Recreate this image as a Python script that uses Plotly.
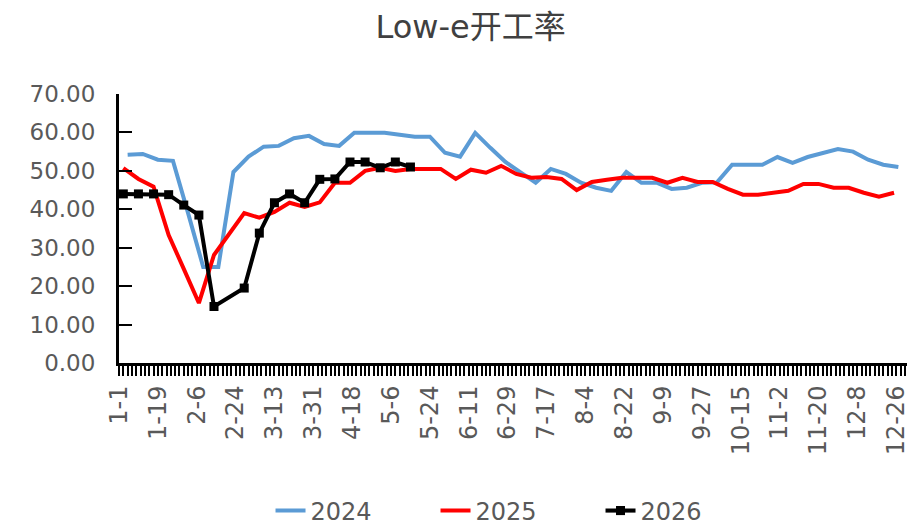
import pandas as pd
import plotly.graph_objects as go

# weekly observation dates, plotted on a common (leap-year) month-day axis
dates_2024 = pd.date_range("2024-01-05", periods=52, freq="7D")
dates_2025 = pd.date_range("2024-01-03", periods=52, freq="7D")
dates_2026 = pd.date_range("2024-01-03", periods=20, freq="7D")

rate_2024 = [54.2, 54.4, 52.9, 52.6, 39.0, 25.0, 25.0, 49.7, 53.7, 56.3,
             56.5, 58.5, 59.1, 57.0, 56.5, 59.9, 59.9, 59.9, 59.4, 58.9,
             58.9, 54.7, 53.7, 59.9, 56.0, 52.3, 49.6, 46.9, 50.5, 49.2,
             46.9, 45.6, 44.8, 49.7, 46.9, 46.9, 45.3, 45.6, 46.9, 47.0,
             51.6, 51.6, 51.6, 53.6, 52.1, 53.6, 54.7, 55.7, 55.0, 52.9,
             51.6, 51.0]

rate_2025 = [50.7, 47.9, 45.9, 33.3, 24.5, 15.6, 28.1, 33.5, 39.0, 37.8,
             39.3, 41.7, 40.6, 41.8, 46.9, 46.9, 50.0, 50.8, 50.0, 50.5,
             50.5, 50.5, 47.9, 50.3, 49.5, 51.3, 49.2, 48.2, 48.4, 47.9,
             45.0, 47.1, 47.7, 48.2, 48.2, 48.2, 46.9, 48.2, 47.1, 47.1,
             45.3, 43.8, 43.8, 44.3, 44.8, 46.6, 46.6, 45.6, 45.6, 44.3,
             43.3, 44.3]

rate_2026 = [44.0, 44.0, 44.0, 43.8, 41.1, 38.5, 14.7, None, 19.5, 33.8,
             41.7, 44.0, 41.7, 47.8, 47.9, 52.3, 52.3, 50.8, 52.3, 51.0]

y_ticks = [0, 10, 20, 30, 40, 50, 60, 70]

TITLE = "Low-e开工率"
FONT = "DejaVu Sans, Noto Sans CJK SC, sans-serif"
GRAY = "#595959"
DAY_MS = 86400000

fig = go.Figure()
fig.add_trace(go.Scatter(x=dates_2024, y=rate_2024, name="2024", mode="lines",
                         line=dict(color="#5B9BD5", width=4)))
fig.add_trace(go.Scatter(x=dates_2025, y=rate_2025, name="2025", mode="lines",
                         line=dict(color="#FF0000", width=4)))
fig.add_trace(go.Scatter(x=dates_2026, y=rate_2026, name="2026", mode="lines+markers",
                         connectgaps=True,
                         line=dict(color="#000000", width=4),
                         marker=dict(symbol="square", size=9, color="#000000")))

fig.update_layout(
    width=912, height=529,
    margin=dict(l=119, r=2, t=94, b=166),
    paper_bgcolor="white", plot_bgcolor="white",
    font=dict(family=FONT, color=GRAY),
    title=dict(text=TITLE, x=0.516, xanchor="center", xref="container",
               y=1 - 27 / 529, yanchor="middle", yref="container",
               font=dict(family=FONT, size=32, color="#404040")),
    showlegend=True,
    legend=dict(orientation="h", xref="container", yref="container",
                x=0.568, xanchor="center", y=18 / 529, yanchor="middle",
                font=dict(size=24, color=GRAY), entrywidth=120,
                entrywidthmode="pixels", tracegroupgap=0),
)

fig.update_xaxes(
    type="date", range=["2024-01-01", "2024-12-31"],
    tick0="2024-01-01", dtick=18 * DAY_MS, tickformat="%-m-%-d",
    tickangle=-90, tickfont=dict(size=24, color=GRAY),
    ticklabeloverflow="allow",
    ticks="outside", ticklen=10, tickwidth=2, tickcolor="black",
    showline=True, linecolor="black", linewidth=3,
    showgrid=False, zeroline=False,
    minor=dict(tick0="2024-01-01", dtick=2 * DAY_MS, ticks="outside",
               ticklen=10, tickwidth=2, tickcolor="black", showgrid=False),
)
fig.update_yaxes(
    range=[0, 70], tickvals=y_ticks, tickformat=".2f",
    tickfont=dict(size=23, color=GRAY),
    ticks="inside", ticklen=13, tickwidth=2, tickcolor="black",
    showline=True, linecolor="black", linewidth=3,
    showgrid=False, zeroline=False, ticklabelstandoff=16,
)

fig.write_html("out.html")
